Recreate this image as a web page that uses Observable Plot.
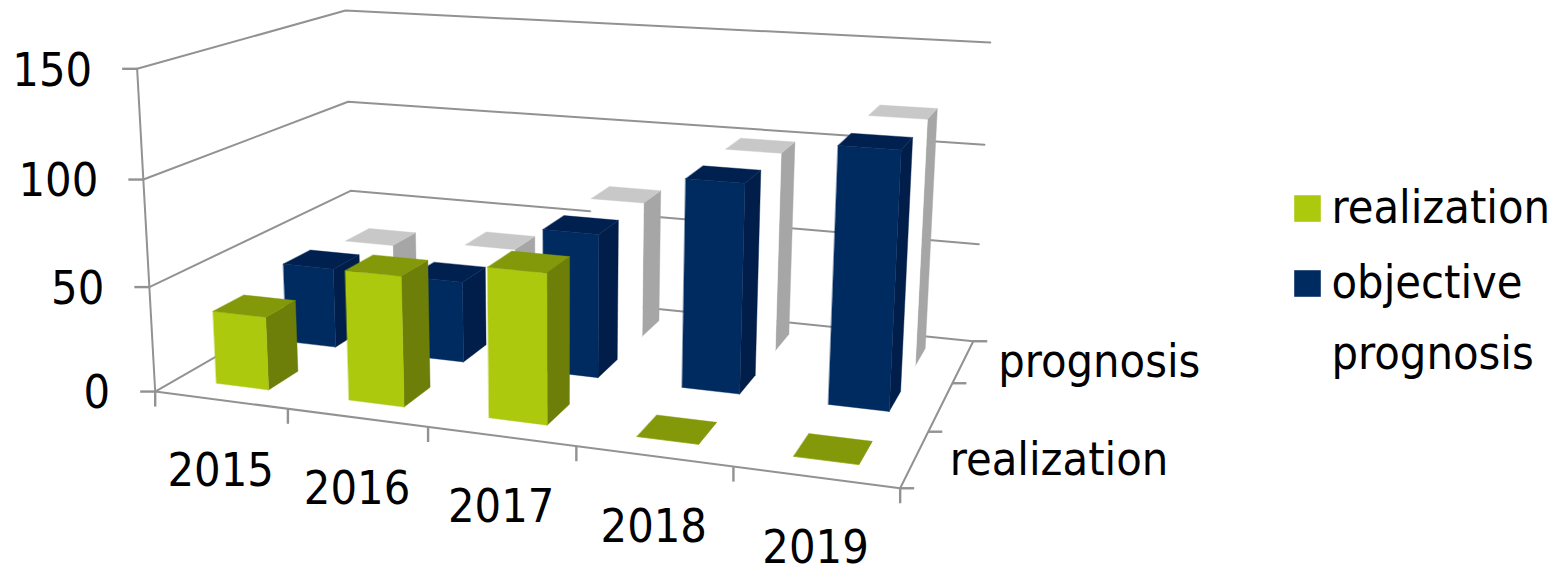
<!DOCTYPE html>
<html><head><meta charset="utf-8">
<script src="https://cdn.jsdelivr.net/npm/d3@7"></script>
<script src="https://cdn.jsdelivr.net/npm/@observablehq/plot@0.6"></script>
<style>html,body{margin:0;padding:0;background:#fff}svg{display:block}</style>
</head><body><div id="chart"></div>
<script>
const years = ["2015","2016","2017","2018","2019"];
const seriesNames = ["realization","objective","prognosis"];
const realization = [35,61,69,0,0];
const objective = [40,40,69.5,99,119];
const prognosis = [35,39,69,99,120];
const valueTicks = [0,50,100,150];
const depthLabels = ["realization","","prognosis"];

const FRONT = {realization:"#adc90e",objective:"#002b60",prognosis:"#ffffff"};
const TOP = {realization:"#83990a",objective:"#002050",prognosis:"#c8c8c8"};
const SIDE = {realization:"#6d7f08",objective:"#001e49",prognosis:"#a6a6a6"};
const GRID = "#929292";

// camera calibration: [category, depth, value] -> picture position of the 3D box
const calib = [
 [0,0,0,155,390],[1,0,0,288,408],[2,0,0,428,427],[3,0,0,575,447],[4,0,0,732,467],[5,0,0,898,488],
 [5,1,0,931,431],[5,2,0,952,382],[5,3,0,972,339],[0,3,0,352,280],
 [0,0,50,149,285],[0,0,100,143,179],[0,0,150,136,69],
 [0,3,50,350,190],[0,3,100,348,100],[0,3,150,345,10],
 [5,3,50,978,244],[5,3,100,984,144],[5,3,150,990,43]
];
function fit(pts){
  const n=11, A=Array.from({length:n},()=>new Array(n+1).fill(0));
  const add=(r,b)=>{for(let i=0;i<n;i++){for(let j=0;j<n;j++)A[i][j]+=r[i]*r[j];A[i][n]+=r[i]*b;}};
  for(const [u,v,w,x,y] of pts){
    const X=u/5,Y=v/3,Z=w/150,px=x/1000,py=y/1000;
    add([X,Y,Z,1,0,0,0,0,-px*X,-px*Y,-px*Z],px);
    add([0,0,0,0,X,Y,Z,1,-py*X,-py*Y,-py*Z],py);
  }
  for(let c=0;c<n;c++){
    let p=c;for(let r=c+1;r<n;r++)if(Math.abs(A[r][c])>Math.abs(A[p][c]))p=r;
    [A[c],A[p]]=[A[p],A[c]];
    for(let r=0;r<n;r++){if(r===c)continue;const f=A[r][c]/A[c][c];for(let k=c;k<=n;k++)A[r][k]-=f*A[c][k];}
  }
  return A.map((row,i)=>row[n]/row[i]);
}
const P = fit(calib);
function proj(u,v,w){
  const X=u/5,Y=v/3,Z=w/150,d=P[8]*X+P[9]*Y+P[10]*Z+1;
  return {x:1000*(P[0]*X+P[1]*Y+P[2]*Z+P[3])/d, y:1000*(P[4]*X+P[5]*Y+P[6]*Z+P[7])/d};
}
const path3 = (...pts)=>pts.map(p=>proj(...p));
const lineOpts={x:"x",y:"y",stroke:GRID,strokeWidth:2};
const marks=[];

// walls and floor edges
for(const t of valueTicks){
  marks.push(Plot.line(path3([0,0,t],[0,3,t],[5,3,t]),lineOpts));
}
marks.push(Plot.line(path3([0,0,0],[0,0,150]),lineOpts));
marks.push(Plot.line(path3([0,0,0],[5,0,0]),lineOpts));
marks.push(Plot.line(path3([5,0,0],[5,3,0]),lineOpts));

// axis ticks
const vt=valueTicks.map(t=>({...proj(0,0,t),t}));
marks.push(Plot.link(vt,{x1:d=>d.x-15,x2:"x",y1:"y",y2:"y",stroke:GRID,strokeWidth:2.4}));
const xt=d3.range(6).map(i=>proj(i,0,0));
marks.push(Plot.link(xt,{x1:"x",x2:"x",y1:"y",y2:d=>d.y+15,stroke:GRID,strokeWidth:2.4}));
const dt=d3.range(4).map(i=>proj(5,i,0));
marks.push(Plot.link(dt,{x1:"x",x2:d=>d.x+14,y1:"y",y2:"y",stroke:GRID,strokeWidth:2.4}));

// bars, back row first
const BW=0.2, BD=0.21;
const rows=[["prognosis",prognosis,2],["objective",objective,1],["realization",realization,0]];
for(const [name,vals,row] of rows){
  vals.forEach((val,i)=>{
    const u0=i+0.5-BW,u1=i+0.5+BW,v0=row+0.5-BD,v1=row+0.5+BD;
    const face=(pts,fill)=>marks.push(Plot.line(pts,{x:"x",y:"y",fill,stroke:fill,strokeWidth:0.4,curve:"linear-closed"}));
    face(path3([u1,v0,0],[u1,v1,0],[u1,v1,val],[u1,v0,val]),SIDE[name]);
    face(path3([u0,v0,0],[u1,v0,0],[u1,v0,val],[u0,v0,val]),FRONT[name]);
    face(path3([u0,v0,val],[u1,v0,val],[u1,v1,val],[u0,v1,val]),TOP[name]);
  });
}

// labels
const FS=46.5;
marks.push(Plot.text(vt,{x:d=>d.x-45,y:d=>d.y+2,text:d=>String(d.t),textAnchor:"end",fontSize:FS,fill:"#000"}));
marks.push(Plot.text(years.map((y,i)=>({...proj(i+0.5,0,0),y0:y})),{x:"x",y:d=>d.y+71,text:"y0",fontSize:FS,fill:"#000"}));
const depthTicks=depthLabels.map((l,i)=>({...proj(5,i+0.5,0),l})).filter(d=>d.l);
marks.push(Plot.text(depthTicks,{x:d=>d.x+35,y:d=>d.y+1,text:"l",textAnchor:"start",fontSize:FS,fill:"#000"}));

// legend
const legendY=[208,283,354];
const legend=seriesNames.map((s,i)=>({s,y:legendY[i]}));
marks.push(Plot.dot(legend,{x:()=>1307,y:"y",symbol:"square",r:15,fill:d=>FRONT[d.s]}));
marks.push(Plot.text(legend,{x:()=>1331,y:"y",text:"s",textAnchor:"start",fontSize:FS,fill:"#000"}));

const chart=Plot.plot({
  width:1566,height:568,margin:0,
  x:{type:"linear",domain:[0,1566],range:[0,1566],axis:null},
  y:{type:"linear",domain:[0,568],range:[0,568],axis:null},
  color:{type:"identity"},
  style:{background:"#fff",fontFamily:"'DejaVu Sans',sans-serif",fontStretch:"condensed"},
  marks
});
document.getElementById("chart").append(chart);
</script></body></html>
